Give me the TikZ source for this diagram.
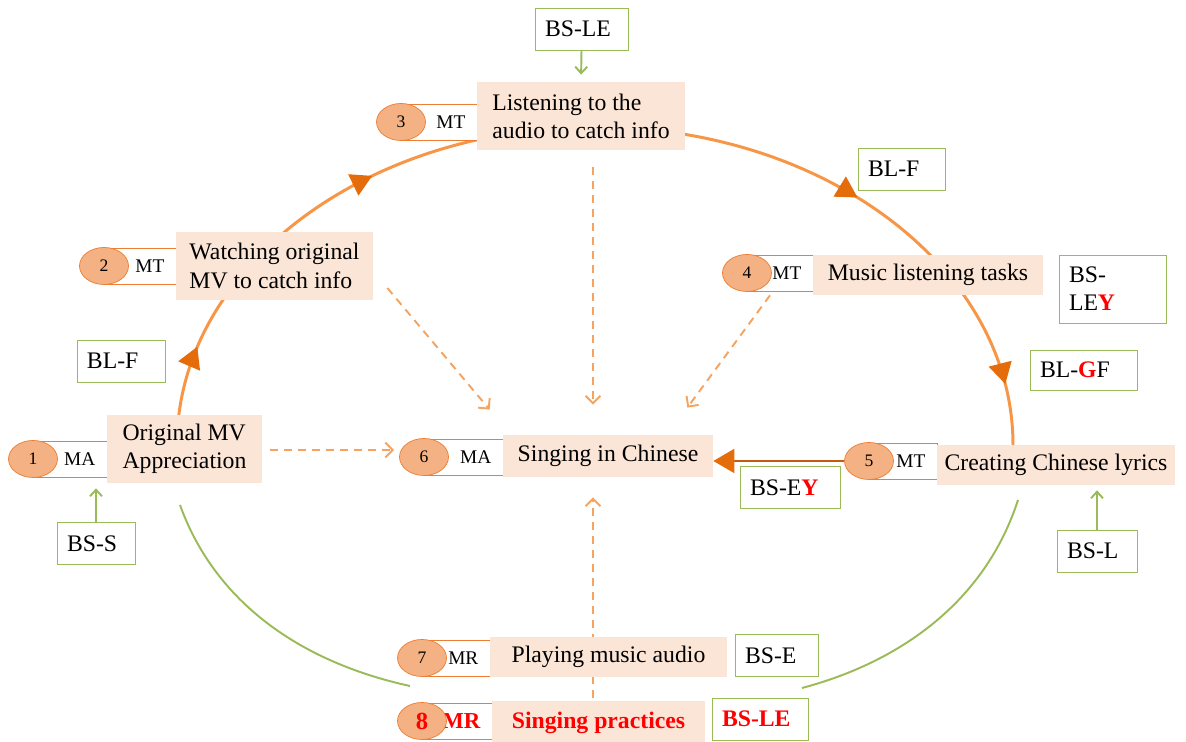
\documentclass[tikz,border=0pt]{standalone}
\usepackage{fontspec}
\setmainfont{Liberation Serif}
\usetikzlibrary{arrows.meta, shapes.geometric, calc, backgrounds, decorations.markings}
\definecolor{cxorange}{HTML}{F79646}
\definecolor{cxdark}{HTML}{E46C0A}
\definecolor{cxbrown}{HTML}{C55A11}
\definecolor{cxoval}{HTML}{F4B183}
\definecolor{cxedge}{HTML}{ED7D31}
\definecolor{cxpeach}{HTML}{FBE5D6}
\definecolor{cxdash}{HTML}{F4A460}
\definecolor{cxgreen}{HTML}{9BBB59}
\definecolor{cxred}{HTML}{FF0000}

\begin{document}
\begin{tikzpicture}[x=0.2mm, y=0.2mm,
  num/.style={ellipse, draw=cxedge, fill=cxoval, minimum width=9.8mm, minimum height=7.4mm, inner sep=0pt, font=\fontsize{10}{12}\selectfont},
  tag/.style={draw=cxedge, fill=white, anchor=west, minimum height=7.2mm, inner xsep=2.4mm, inner ysep=0pt, align=right, font=\fontsize{11}{13}\selectfont},
  stepbox/.style={fill=cxpeach, align=left, inner sep=1mm, font=\fontsize{13.5}{16}\selectfont},
  lbl/.style={draw=cxgreen, fill=white, align=left, text width=#1, inner xsep=2mm, inner ysep=1.5mm, minimum height=8.4mm, font=\fontsize{13.5}{16}\selectfont},
  dashline/.style={cxdash, line width=1.1pt, dash pattern=on 1.6mm off 1.2mm, -{Straight Barb[length=1.5mm, width=3mm]}},
  feed/.style={cxgreen, line width=1.1pt, -{Straight Barb[length=1.3mm, width=2.4mm]}}]
\useasboundingbox (0,0) rectangle (1186,742);

% Steps 1-7: number, tag, task
\foreach \n/\ox/\oy/\tw/\tg/\sx/\sy/\sw/\sh/\txt
  [evaluate=\tw as \tgw using \tw*0.2-4.8, evaluate=\sw as \swd using \sw*0.2, evaluate=\sh as \shd using \sh*0.2] in {
  1/33/283/74/MA/184.5/293/155/68/{Original MV\\Appreciation},
  2/104/476/72/MT/274.5/476/197/68/{Watching original\\MV to catch info},
  3/401/620/76/MT/581/626/208/68/{Listening to the\\audio to catch info},
  4/747/469/66/MT/928/467/230/40/{Music listening tasks},
  5/869/281/68/MT/1056/277/238/40/{Creating Chinese lyrics},
  6/424/285/79/MA/608/286/210/42/{Singing in Chinese},
  7/422/84/68/MR/608.5/85/237/40/{Playing music audio}} {
  \node[tag, text width=\tgw mm] (t\n) at (\ox,\oy) {\tg};
  \node[num] (o\n) at (\ox,\oy) {\n};
  \node[stepbox, minimum width=\swd mm, minimum height=\shd mm] (s\n) at (\sx,\sy) {\txt};
}

% Step 8 (red)
\node[tag, text width=9.2mm, text=cxred, font=\bfseries\fontsize{13}{15}\selectfont] (t8) at (422,21) {MR};
\node[num, text=cxred, font=\bfseries\fontsize{14}{16}\selectfont] (o8) at (422,21) {8};
\node[stepbox, minimum width=42.6mm, minimum height=8.6mm, text=cxred, font=\bfseries\fontsize{13.5}{16}\selectfont] (s8) at (598.5,19) {Singing practices};

% Strategy labels
\node[lbl=14.6mm] (bsle) at (581.5,713) {BS-LE};
\node[lbl=13.4mm] (blf1) at (901.5,573) {BL-F};
\node[lbl=17.4mm, minimum height=13.6mm] (bsley) at (1112.5,453) {BS-\\LE\textbf{\textcolor{cxred}{Y}}};
\node[lbl=17.4mm, minimum height=8mm] (blgf) at (1083.5,372) {BL-\textbf{\textcolor{cxred}{G}}F};
\node[lbl=13.6mm] (blf2) at (121,381) {BL-F};
\node[lbl=11.6mm] (bss) at (96,198.5) {BS-S};
\node[lbl=16mm] (bsey) at (790,254.5) {BS-E\textbf{\textcolor{cxred}{Y}}};
\node[lbl=12mm] (bsl) at (1097,191) {BS-L};
\node[lbl=12.6mm] (bse) at (776.5,86.5) {BS-E};
\node[lbl=15.2mm, text=cxred, font=\bfseries\fontsize{13.5}{16}\selectfont] (bsle2) at (760,23) {BS-LE};

\begin{scope}[on background layer]
% Cycle
\draw[cxorange, line width=1.7pt, postaction={decorate}, decoration={markings,
    mark=at position 0.087 with {\arrow{Triangle[length=4.2mm, width=4.6mm, color=cxdark]}},
    mark=at position 0.302 with {\arrow{Triangle[length=4.2mm, width=4.6mm, color=cxdark]}},
    mark=at position 0.737 with {\arrow{Triangle[length=4.2mm, width=4.6mm, color=cxdark]}},
    mark=at position 0.947 with {\arrow{Triangle[length=4.2mm, width=4.6mm, color=cxdark]}}}]
  (177,297) arc[start angle=180, end angle=0, x radius=418, y radius=318];
\draw[cxgreen, line width=1.1pt] (180,237) .. controls (215,140) and (300,80) .. (410,56);
\draw[cxgreen, line width=1.1pt] (1018,242) .. controls (985,140) and (900,80) .. (802,54);

% Into singing
\draw[dashline] ([shift={(8,-1)}]s1.east) -- ([shift={(-5,7)}]o6.west);
\draw[dashline] ([shift={(14,-22)}]s2.east) -- ([shift={(-13,25)}]s6.north west);
\draw[dashline] ([shift={(12,-17)}]s3.south) -- ([shift={(-15,30)}]s6.north);
\draw[dashline] ([shift={(23,-3.5)}]o4.south) -- ([shift={(-26,27)}]s6.north east);
\draw[dashline] ([shift={(-5.5,3)}]s8.north) -- ([shift={(-15,-20)}]s6.south);
\draw[cxbrown, line width=1.1pt, -{Triangle[length=4.2mm, width=4.8mm, color=cxdark]}] (o5.west) -- (o5.west -| s6.east);

% Support arrows
\draw[feed, shorten >=1.4mm] (bsle.south) -- (s3.north);
\draw[feed, shorten >=2.2mm] (bss.north) -- (bss.north |- t1.south);
\draw[feed, shorten >=1mm] (bsl.north) -- (bsl.north |- s5.south);
\end{scope}

\end{tikzpicture}
\end{document}
